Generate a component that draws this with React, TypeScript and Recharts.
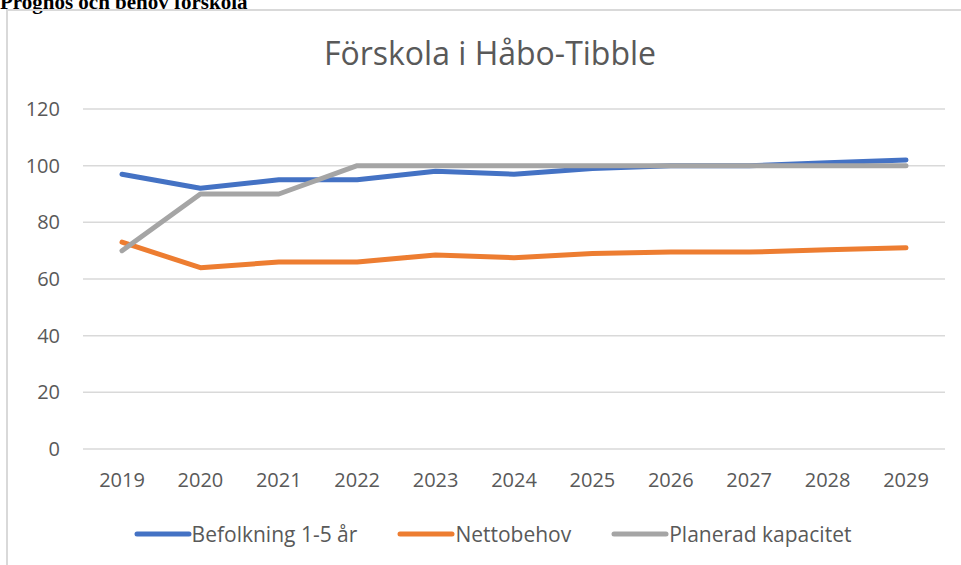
import { LineChart, Line, XAxis, YAxis, CartesianGrid, Legend } from 'recharts';

const years = ['2019', '2020', '2021', '2022', '2023', '2024', '2025', '2026', '2027', '2028', '2029'];
const befolkning = [97, 92, 95, 95, 98, 97, 99, 100, 100, 101, 102];
const nettobehov = [73, 64, 66, 66, 68.5, 67.5, 69, 69.5, 69.5, 70.3, 71];
const kapacitet = [70, 90, 90, 100, 100, 100, 100, 100, 100, 100, 100];
const yTicks = [0, 20, 40, 60, 80, 100, 120];

const series = [
  { key: 'befolkning', name: 'Befolkning 1-5 år', color: '#4472C4' },
  { key: 'nettobehov', name: 'Nettobehov', color: '#ED7D31' },
  { key: 'kapacitet', name: 'Planerad kapacitet', color: '#A5A5A5' },
];

const data = years.map((year, i) => ({
  year,
  befolkning: befolkning[i],
  nettobehov: nettobehov[i],
  kapacitet: kapacitet[i],
}));

const FONT = "'Open Sans', 'Noto Sans', sans-serif";
const TEXT = '#595959';

function LegendRow() {
  return (
    <div style={{ display: 'flex', justifyContent: 'center', gap: 40, fontFamily: FONT, fontSize: 21, color: TEXT }}>
      {series.map(s => (
        <div key={s.key} style={{ display: 'flex', alignItems: 'center' }}>
          <svg width={58} height={10}>
            <line x1={3} y1={5} x2={55} y2={5} stroke={s.color} strokeWidth={5} strokeLinecap="round" />
          </svg>
          <span>{s.name}</span>
        </div>
      ))}
    </div>
  );
}

export default function App() {
  return (
    <div style={{ position: 'fixed', left: 0, top: 0, width: 961, height: 565, overflow: 'hidden', background: '#fff' }}>
      <div style={{ position: 'absolute', left: 0, top: -10, fontFamily: "'Liberation Serif', serif", fontWeight: 'bold', fontSize: 21, whiteSpace: 'nowrap' }}>
        Prognos och behov förskola
      </div>
      <div style={{ position: 'absolute', left: 6, top: 9, width: 1000, height: 700, border: '2px solid #D9D9D9' }} />
      <div style={{ position: 'absolute', left: 0, top: 31, width: 980, textAlign: 'center', fontFamily: FONT, fontSize: 32, color: TEXT }}>
        Förskola i Håbo-Tibble
      </div>
      <div style={{ position: 'absolute', left: 0, top: 0 }}>
        <LineChart width={961} height={565} data={data} margin={{ top: 109, right: 16, left: 23, bottom: 76 }}>
          <CartesianGrid vertical={false} stroke="#D9D9D9" strokeWidth={1.5} />
          <XAxis dataKey="year" axisLine={false} tickLine={false} tickSize={0} tickMargin={24} height={40}
            padding={{ left: 39, right: 39 }}
            tick={{ fill: TEXT, fontSize: 20, fontFamily: FONT }} />
          <YAxis domain={[0, 120]} ticks={yTicks} axisLine={false} tickLine={false} tickSize={0} tickMargin={23} width={60}
            tick={{ fill: TEXT, fontSize: 20, fontFamily: FONT }} />
          <Legend verticalAlign="middle" align="center" layout="horizontal" content={() => <LegendRow />}
            wrapperStyle={{ top: 520, left: 12, width: 961 }} />
          {series.map(s => (
            <Line key={s.key} dataKey={s.key} name={s.name} stroke={s.color} strokeWidth={5} strokeLinecap="round" strokeLinejoin="round"
              dot={false} activeDot={false} isAnimationActive={false} />
          ))}
        </LineChart>
      </div>
    </div>
  );
}
